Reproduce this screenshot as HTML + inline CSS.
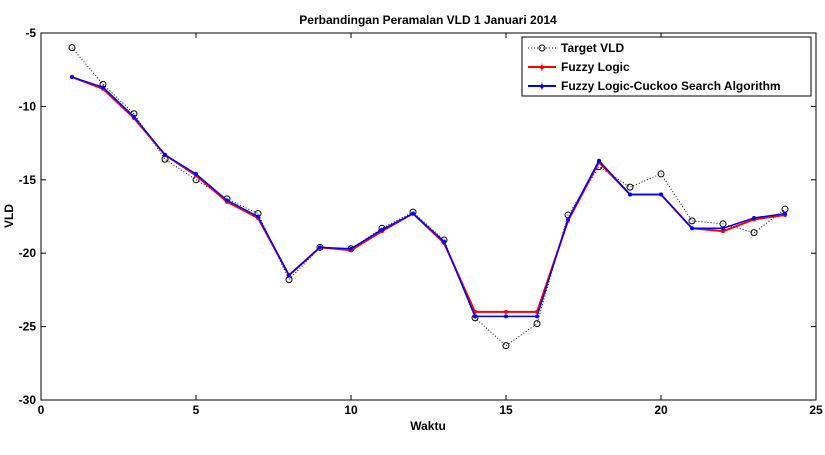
<!DOCTYPE html>
<html><head><meta charset="utf-8"><style>body{margin:0;background:#fff}</style></head><body>
<svg width="825" height="450" xmlns="http://www.w3.org/2000/svg" font-family="Liberation Sans, sans-serif" font-weight="bold" font-size="12">
<rect x="41" y="33" width="775" height="367" fill="#fff" stroke="#000" stroke-width="1"/>
<text x="428" y="24" text-anchor="middle">Perbandingan Peramalan VLD 1 Januari 2014</text>
<g id="ticks" stroke="#000" stroke-width="1"></g>
<g id="labels"></g>
<text x="428" y="430" text-anchor="middle">Waktu</text>
<text x="13" y="216" text-anchor="middle" transform="rotate(-90 13 216)">VLD</text>
<g id="series"></g>
<rect x="522" y="37" width="289" height="59" fill="#fff" stroke="#000"/>
<line x1="528" y1="48" x2="556" y2="48" stroke="#000" stroke-dasharray="1,2"/><circle cx="542" cy="48" r="3" fill="none" stroke="#000"/>
<text x="561" y="52">Target VLD</text>
<line x1="528" y1="67" x2="556" y2="67" stroke="#f00" stroke-width="2"/><text x="542" y="71" fill="#f00" text-anchor="middle" font-size="10">✦</text>
<text x="561" y="71">Fuzzy Logic</text>
<line x1="528" y1="86" x2="556" y2="86" stroke="#00f" stroke-width="2"/><text x="542" y="90" fill="#00f" text-anchor="middle" font-size="10">✦</text>
<text x="561" y="90">Fuzzy Logic-Cuckoo Search Algorithm</text>
</svg>
<script>
const ns="http://www.w3.org/2000/svg";
const X=v=>41+v*31, Y=v=>33+(-5-v)*14.68;
function el(t,a,p){const e=document.createElementNS(ns,t);for(const k in a)e.setAttribute(k,a[k]);document.getElementById(p).appendChild(e);return e;}
for(let v=0;v<=25;v+=5){el('line',{x1:X(v),y1:400,x2:X(v),y2:395},'ticks');el('line',{x1:X(v),y1:33,x2:X(v),y2:38},'ticks');const t=el('text',{x:X(v),y:414,'text-anchor':'middle'},'labels');t.textContent=v;}
for(let v=-30;v<=-5;v+=5){el('line',{x1:41,y1:Y(v),x2:46,y2:Y(v)},'ticks');el('line',{x1:816,y1:Y(v),x2:811,y2:Y(v)},'ticks');const t=el('text',{x:36,y:Y(v)+4,'text-anchor':'end'},'labels');t.textContent=v;}
const T=[-6,-8.5,-10.5,-13.6,-15,-16.3,-17.3,-21.8,-19.6,-19.7,-18.3,-17.2,-19.1,-24.4,-26.3,-24.8,-17.4,-14.1,-15.5,-14.6,-17.8,-18,-18.6,-17];
const F=[-8,-8.8,-10.8,-13.3,-14.7,-16.5,-17.6,-21.5,-19.6,-19.8,-18.5,-17.3,-19.3,-24,-24,-24,-17.8,-13.8,-16,-16,-18.3,-18.5,-17.7,-17.4];
const C=[-8,-8.7,-10.7,-13.3,-14.6,-16.4,-17.5,-21.5,-19.6,-19.7,-18.4,-17.3,-19.2,-24.3,-24.3,-24.3,-17.7,-13.7,-16,-16,-18.3,-18.3,-17.6,-17.3];
const pts=a=>a.map((v,i)=>X(i+1)+','+Y(v)).join(' ');
el('polyline',{points:pts(T),fill:'none',stroke:'#000','stroke-dasharray':'1,2'},'series');
T.forEach((v,i)=>el('circle',{cx:X(i+1),cy:Y(v),r:3,fill:'none',stroke:'#000'},'series'));
el('polyline',{points:pts(F),fill:'none',stroke:'#f00','stroke-width':2},'series');
F.forEach((v,i)=>el('circle',{cx:X(i+1),cy:Y(v),r:2,fill:'#f00'},'series'));
el('polyline',{points:pts(C),fill:'none',stroke:'#00f','stroke-width':1.5},'series');
C.forEach((v,i)=>el('circle',{cx:X(i+1),cy:Y(v),r:2,fill:'#00f'},'series'));
</script>
</body></html>
